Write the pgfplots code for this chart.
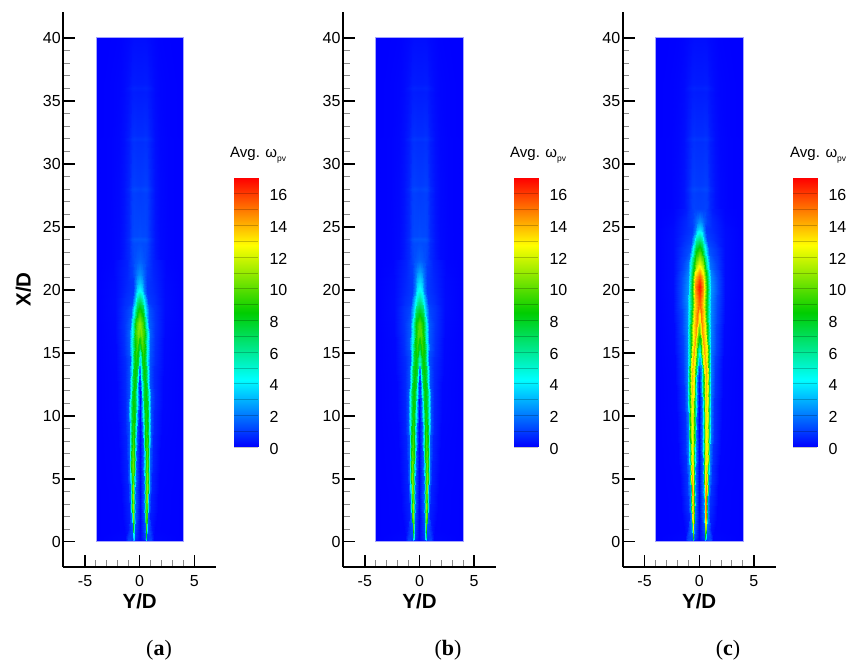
\documentclass[border=0pt]{standalone}
\usepackage{fontspec}
\setmainfont{Liberation Sans}
\newfontfamily\capfont{Liberation Serif}
\usepackage{pgfplots}
\usepackage{pgfplotstable}
\pgfplotsset{compat=1.18}
\pgfplotstableread[row sep=\\]{
Y X V\\
0 22.4 1.6\\.25 22.4 1.5\\.5 22.4 1.3\\.7 22.4 1.1\\1 22.4 .7\\1.4 22.4 .4\\1.9 22.4 .15\\2.6 22.4 .05\\3.2 22.4 .02\\4 22.4 0\\
0 23.7 1.3\\.25 23.7 1.25\\.5 23.7 1.25\\.7 23.7 1.15\\1 23.7 .7\\1.4 23.7 .36\\1.9 23.7 .15\\2.6 23.7 .05\\3.2 23.7 .02\\4 23.7 0\\
0 24 1.45\\.25 24 1.45\\.5 24 1.45\\.7 24 1.3\\1 24 .8\\1.4 24 .38\\1.9 24 .15\\2.6 24 .05\\3.2 24 .02\\4 24 0\\
0 24.3 1.25\\.25 24.3 1.2\\.5 24.3 1.2\\.7 24.3 1.1\\1 24.3 .68\\1.4 24.3 .35\\1.9 24.3 .14\\2.6 24.3 .05\\3.2 24.3 .02\\4 24.3 0\\
0 27.7 .98\\.25 27.7 1\\.5 27.7 1.05\\.7 27.7 1\\1 27.7 .62\\1.4 27.7 .3\\1.9 27.7 .13\\2.6 27.7 .04\\3.2 27.7 .02\\4 27.7 0\\
0 28 1.1\\.25 28 1.15\\.5 28 1.2\\.7 28 1.12\\1 28 .72\\1.4 28 .32\\1.9 28 .13\\2.6 28 .04\\3.2 28 .02\\4 28 0\\
0 28.3 .96\\.25 28.3 .98\\.5 28.3 1.03\\.7 28.3 .98\\1 28.3 .6\\1.4 28.3 .3\\1.9 28.3 .13\\2.6 28.3 .04\\3.2 28.3 .02\\4 28.3 0\\
0 31.7 .75\\.25 31.7 .75\\.5 31.7 .8\\.7 31.7 .75\\1 31.7 .48\\1.4 31.7 .24\\1.9 31.7 .1\\2.6 31.7 .04\\3.2 31.7 .02\\4 31.7 0\\
0 32 .87\\.25 32 .87\\.5 32 .92\\.7 32 .85\\1 32 .58\\1.4 32 .25\\1.9 32 .1\\2.6 32 .04\\3.2 32 .02\\4 32 0\\
0 32.3 .72\\.25 32.3 .72\\.5 32.3 .77\\.7 32.3 .72\\1 32.3 .46\\1.4 32.3 .23\\1.9 32.3 .1\\2.6 32.3 .03\\3.2 32.3 .01\\4 32.3 0\\
0 35.7 .45\\.25 35.7 .45\\.5 35.7 .47\\.7 35.7 .45\\1 35.7 .3\\1.4 35.7 .16\\1.9 35.7 .07\\2.6 35.7 .03\\3.2 35.7 .01\\4 35.7 0\\
0 36 .55\\.25 36 .55\\.5 36 .58\\.7 36 .54\\1 36 .38\\1.4 36 .16\\1.9 36 .07\\2.6 36 .03\\3.2 36 .01\\4 36 0\\
0 36.3 .43\\.25 36.3 .43\\.5 36.3 .45\\.7 36.3 .43\\1 36.3 .28\\1.4 36.3 .15\\1.9 36.3 .07\\2.6 36.3 .03\\3.2 36.3 .01\\4 36.3 0\\
0 40 .22\\.25 40 .22\\.5 40 .22\\.7 40 .2\\1 40 .14\\1.4 40 .08\\1.9 40 .03\\2.6 40 .01\\3.2 40 0\\4 40 0\\
}\tail
\pgfplotstableread[row sep=\\]{
Y X V\\
0 0 0\\.535 0 .7\\.56 0 2.25\\.58 0 4\\.6 0 4.5\\.62 0 4\\.64 0 2.25\\.665 0 .7\\1.05 0 1.3\\1.3 0 .1\\4 0 0\\
0 .4 0\\.509 .4 1.1\\.544 .4 3.75\\.572 .4 6.6\\.6 .4 7.5\\.628 .4 6.6\\.656 .4 3.75\\.691 .4 1.1\\1.08 .4 .9\\1.3 .4 .1\\4 .4 0\\
0 1 0\\.493 1 1.4\\.538 1 4.75\\.574 1 8.4\\.61 1 9.5\\.646 1 8.4\\.682 1 4.75\\.727 1 1.4\\1.1 1 .35\\1.4 1 .05\\4 1 0\\
0 2 0\\.461 2 1.65\\.526 2 5.5\\.578 2 9.7\\.63 2 11\\.682 2 9.7\\.734 2 5.5\\.799 2 1.65\\.95 2 .5\\1.6 2 .05\\4 2 0\\
0 2.7 0\\.438 2.7 1.7\\.516 2.7 5.55\\.578 2.7 9.8\\.64 2.7 11.1\\.702 2.7 9.8\\.764 2.7 5.55\\.842 2.7 1.7\\1 2.7 .52\\1.65 2.7 .05\\4 2.7 0\\
0 3.5 0\\.416 3.5 1.7\\.506 3.5 5.6\\.578 3.5 9.9\\.65 3.5 11.2\\.722 3.5 9.9\\.794 3.5 5.6\\.884 3.5 1.7\\1.05 3.5 .55\\1.7 3.5 .05\\4 3.5 0\\
0 4.2 0\\.395 4.2 1.65\\.495 4.2 5.5\\.575 4.2 9.7\\.655 4.2 11\\.735 4.2 9.7\\.815 4.2 5.5\\.915 4.2 1.65\\1.095 4.2 .55\\1.75 4.2 .05\\4 4.2 0\\
0 5 0\\.374 5 1.6\\.484 5 5.4\\.572 5 9.5\\.66 5 10.8\\.748 5 9.5\\.836 5 5.4\\.946 5 1.6\\1.14 5 .55\\1.8 5 .06\\4 5 0\\
0 6 0\\.343 6 1.55\\.463 6 5.2\\.559 6 9.15\\.655 6 10.4\\.751 6 9.15\\.847 6 5.2\\.967 6 1.55\\1.18 6 .55\\1.85 6 .06\\4 6 0\\
0 7 0\\.312 7 1.5\\.442 7 5\\.546 7 8.8\\.65 7 10\\.754 7 8.8\\.858 7 5\\.988 7 1.5\\1.22 7 .55\\1.9 7 .07\\4 7 0\\
0 8 0\\.265 8 1.45\\.407 8 4.8\\.521 8 8.45\\.635 8 9.6\\.749 8 8.45\\.863 8 4.8\\1.005 8 1.45\\1.26 8 .55\\1.95 8 .07\\4 8 0\\
0 9 0\\.217 9 1.4\\.372 9 4.6\\.496 9 8.1\\.62 9 9.2\\.744 9 8.1\\.868 9 4.6\\1.023 9 1.4\\1.3 9 .55\\2 9 .08\\4 9 0\\
0 10 0\\.16 10 1.35\\.327 10 4.5\\.461 10 7.9\\.595 10 8.95\\.729 10 7.9\\.863 10 4.5\\1.03 10 1.35\\1.33 10 .57\\2.05 10 .09\\4 10 0\\
0 11 0\\.102 11 1.3\\.282 11 4.35\\.426 11 7.7\\.57 11 8.7\\.714 11 7.7\\.858 11 4.35\\1.038 11 1.3\\1.36 11 .6\\2.1 11 .1\\4 11 0\\
0 11.8 .12\\.076 11.8 .95\\.243 11.8 4.3\\.389 11.8 7.65\\.535 11.8 8.65\\.681 11.8 7.65\\.827 11.8 4.3\\1.01 11.8 1.3\\1.355 11.8 .62\\2.1 11.8 .1\\4 11.8 0\\
0 12.5 .3\\.05 12.5 .6\\.204 12.5 4.3\\.352 12.5 7.6\\.5 12.5 8.6\\.648 12.5 7.6\\.796 12.5 4.3\\.981 12.5 1.3\\1.35 12.5 .65\\2.1 12.5 .1\\4 12.5 0\\
0 13 .55\\.05 13 1.1\\.157 13 4.3\\.311 13 7.6\\.465 13 8.6\\.619 13 7.6\\.773 13 4.3\\.965 13 1.3\\1.35 13 .65\\2.15 13 .1\\4 13 0\\
0 13.5 .9\\.05 13.5 1.6\\.11 13.5 4.3\\.27 13.5 7.6\\.43 13.5 8.6\\.59 13.5 7.6\\.75 13.5 4.3\\.95 13.5 1.3\\1.35 13.5 .65\\2.2 13.5 .1\\4 13.5 0\\
}\low
\pgfplotstableread[row sep=\\]{
Y X V\\
0 13.5 .9\\.05 13.5 1.6\\.11 13.5 4.3\\.27 13.5 7.6\\.43 13.5 8.6\\.59 13.5 7.6\\.75 13.5 4.3\\.95 13.5 1.3\\1.35 13.5 .65\\2.2 13.5 .1\\4 13.5 0\\
0 14.5 3.2\\.04 14.5 3.4\\.09 14.5 5\\.2 14.5 7.9\\.34 14.5 8.9\\.516 14.5 7.8\\.692 14.5 4.45\\.912 14.5 1.35\\1.376 14.5 .7\\2.2 14.5 .12\\4 14.5 0\\
0 15 4.9\\.035 15 5.1\\.08 15 6.25\\.175 15 8.35\\.295 15 9.25\\.493 15 8.1\\.691 15 4.6\\.938 15 1.4\\1.41 15 .72\\2.2 15 .12\\4 15 0\\
0 15.5 6.6\\.03 15.5 6.8\\.07 15.5 7.5\\.15 15.5 8.8\\.25 15.5 9.6\\.47 15.5 8.45\\.69 15.5 4.8\\.965 15.5 1.45\\1.44 15.5 .75\\2.2 15.5 .13\\4 15.5 0\\
0 16 8.2\\.025 16 8.3\\.06 16 8.75\\.12 16 9.55\\.195 16 10.05\\.429 16 8.8\\.663 16 5\\.955 16 1.5\\1.435 16 .78\\2.25 16 .13\\4 16 0\\
0 16.5 9.7\\.02 16.5 9.8\\.05 16.5 10\\.09 16.5 10.3\\.14 16.5 10.5\\.388 16.5 9.2\\.636 16.5 5.25\\.946 16.5 1.6\\1.43 16.5 .8\\2.3 16.5 .14\\4 16.5 0\\
0 17.3 10.7\\.01 17.3 10.7\\.02 17.3 10.75\\.035 17.3 10.8\\.05 17.3 10.8\\.31 17.3 9.5\\.57 17.3 5.4\\.895 17.3 1.6\\1.4 17.3 .85\\2.3 17.3 .15\\4 17.3 0\\
0 18.4 8.8\\.008 18.4 8.8\\.016 18.4 8.8\\.023 18.4 8.8\\.03 18.4 8.8\\.278 18.4 7.7\\.526 18.4 4.4\\.836 18.4 1.4\\1.4 18.4 .8\\2.3 18.4 .18\\4 18.4 0\\
0 19.2 6.6\\.008 19.2 6.6\\.016 19.2 6.6\\.023 19.2 6.6\\.03 19.2 6.6\\.25 19.2 5.8\\.47 19.2 3.3\\.745 19.2 1\\1.3 19.2 .75\\2.3 19.2 .18\\4 19.2 0\\
0 20 4.2\\.008 20 4.2\\.016 20 4.2\\.023 20 4.2\\.03 20 4.2\\.218 20 3.7\\.406 20 2.1\\.641 20 .9\\1.2 20 .7\\2.3 20 .16\\4 20 0\\
0 20.6 3.2\\.008 20.6 3.2\\.016 20.6 3.2\\.023 20.6 3.2\\.03 20.6 3.2\\.218 20.6 2.8\\.406 20.6 1.8\\.641 20.6 .9\\1.2 20.6 .65\\2.3 20.6 .15\\4 20.6 0\\
0 21.3 2.3\\.008 21.3 2.3\\.016 21.3 2.3\\.023 21.3 2.3\\.03 21.3 2.3\\.23 21.3 2.05\\.43 21.3 1.6\\.68 21.3 1\\1.2 21.3 .6\\2.4 21.3 .1\\4 21.3 0\\
0 22.4 1.6\\.008 22.4 1.6\\.016 22.4 1.6\\.023 22.4 1.6\\.03 22.4 1.6\\.25 22.4 1.5\\.5 22.4 1.3\\.8 22.4 .97\\1.2 22.4 .55\\2.4 22.4 .07\\4 22.4 0\\
}\upA
\pgfplotstableread[row sep=\\]{
Y X V\\
0 13.5 .9\\.05 13.5 1.6\\.11 13.5 4.3\\.27 13.5 7.6\\.43 13.5 8.6\\.59 13.5 7.6\\.75 13.5 4.3\\.95 13.5 1.3\\1.35 13.5 .65\\2.2 13.5 .1\\4 13.5 0\\
0 14.5 4\\.04 14.5 4.2\\.09 14.5 5.4\\.19 14.5 7.8\\.32 14.5 8.7\\.496 14.5 7.65\\.672 14.5 4.35\\.892 14.5 1.3\\1.36 14.5 .7\\2.2 14.5 .12\\4 14.5 0\\
0 15 5.5\\.035 15 5.7\\.08 15 6.6\\.165 15 8.25\\.265 15 9\\.463 15 7.9\\.661 15 4.5\\.908 15 1.35\\1.38 15 .72\\2.2 15 .12\\4 15 0\\
0 15.5 7\\.03 15.5 7.2\\.07 15.5 7.8\\.14 15.5 8.7\\.21 15.5 9.3\\.43 15.5 8.2\\.65 15.5 4.65\\.925 15.5 1.4\\1.4 15.5 .75\\2.2 15.5 .13\\4 15.5 0\\
0 16 8.2\\.025 16 8.35\\.055 16 8.7\\.105 16 9.25\\.155 16 9.6\\.389 16 8.45\\.623 16 4.8\\.915 16 1.45\\1.4 16 .78\\2.25 16 .13\\4 16 0\\
0 16.5 9.4\\.02 16.5 9.5\\.04 16.5 9.6\\.07 16.5 9.8\\.1 16.5 9.9\\.348 16.5 8.7\\.596 16.5 4.95\\.906 16.5 1.5\\1.4 16.5 .8\\2.3 16.5 .14\\4 16.5 0\\
0 17.3 9.7\\.01 17.3 9.7\\.02 17.3 9.75\\.035 17.3 9.8\\.05 17.3 9.8\\.31 17.3 8.6\\.57 17.3 4.9\\.895 17.3 1.5\\1.4 17.3 .85\\2.3 17.3 .15\\4 17.3 0\\
0 18.4 7.7\\.008 18.4 7.7\\.016 18.4 7.7\\.023 18.4 7.7\\.03 18.4 7.7\\.286 18.4 6.8\\.542 18.4 3.85\\.862 18.4 1.2\\1.4 18.4 .85\\2.3 18.4 .18\\4 18.4 0\\
0 19.2 5.9\\.008 19.2 5.9\\.016 19.2 5.9\\.023 19.2 5.9\\.03 19.2 5.9\\.262 19.2 5.2\\.494 19.2 2.95\\.784 19.2 1\\1.3 19.2 .75\\2.3 19.2 .18\\4 19.2 0\\
0 20 4.4\\.008 20 4.4\\.016 20 4.4\\.023 20 4.4\\.03 20 4.4\\.238 20 3.9\\.446 20 2.2\\.706 20 .95\\1.2 20 .7\\2.3 20 .16\\4 20 0\\
0 20.8 3.5\\.008 20.8 3.5\\.016 20.8 3.5\\.023 20.8 3.5\\.03 20.8 3.5\\.238 20.8 3.1\\.446 20.8 1.9\\.706 20.8 .95\\1.2 20.8 .65\\2.3 20.8 .15\\4 20.8 0\\
0 21.6 2.5\\.008 21.6 2.5\\.016 21.6 2.5\\.023 21.6 2.5\\.03 21.6 2.5\\.238 21.6 2.2\\.446 21.6 1.7\\.706 21.6 1\\1.2 21.6 .6\\2.4 21.6 .1\\4 21.6 0\\
0 22.4 1.6\\.008 22.4 1.6\\.016 22.4 1.6\\.023 22.4 1.6\\.03 22.4 1.6\\.25 22.4 1.5\\.5 22.4 1.3\\.8 22.4 .97\\1.2 22.4 .55\\2.4 22.4 .07\\4 22.4 0\\
}\upB
\pgfplotstableread[row sep=\\]{
Y X V\\
0 0 0\\.535 0 .75\\.56 0 2.5\\.58 0 4.4\\.6 0 5\\.62 0 4.4\\.64 0 2.5\\.665 0 .75\\1.05 0 1.3\\1.3 0 .1\\4 0 0\\
0 .4 0\\.509 .4 1.35\\.544 .4 4.5\\.572 .4 7.9\\.6 .4 9\\.628 .4 7.9\\.656 .4 4.5\\.691 .4 1.35\\1.08 .4 .9\\1.3 .4 .1\\4 .4 0\\
0 1 0\\.493 1 1.85\\.538 1 6.15\\.574 1 10.8\\.61 1 12.3\\.646 1 10.8\\.682 1 6.15\\.727 1 1.85\\1.1 1 .35\\1.4 1 .05\\4 1 0\\
0 2 0\\.451 2 2.25\\.516 2 7.5\\.568 2 13.2\\.62 2 15\\.672 2 13.2\\.724 2 7.5\\.789 2 2.25\\.95 2 .6\\1.6 2 .05\\4 2 0\\
0 2.6 0\\.436 2.6 2.3\\.509 2.6 7.6\\.567 2.6 13.4\\.625 2.6 15.3\\.683 2.6 13.4\\.741 2.6 7.6\\.813 2.6 2.3\\.985 2.6 .7\\1.65 2.6 .05\\4 2.6 0\\
0 3.2 0\\.422 3.2 2.3\\.502 3.2 7.75\\.566 3.2 13.6\\.63 3.2 15.5\\.694 3.2 13.6\\.758 3.2 7.75\\.838 3.2 2.3\\1.02 3.2 .8\\1.7 3.2 .05\\4 3.2 0\\
0 4.1 0\\.393 4.1 2.2\\.488 4.1 7.45\\.564 4.1 13.1\\.64 4.1 14.9\\.716 4.1 13.1\\.792 4.1 7.45\\.887 4.1 2.2\\1.08 4.1 .8\\1.75 4.1 .05\\4 4.1 0\\
0 5 0\\.364 5 2.15\\.474 5 7.15\\.562 5 12.6\\.65 5 14.3\\.738 5 12.6\\.826 5 7.15\\.936 5 2.15\\1.14 5 .8\\1.8 5 .06\\4 5 0\\
0 5.75 0\\.343 5.75 2.05\\.463 5.75 6.9\\.559 5.75 12.15\\.655 5.75 13.8\\.751 5.75 12.15\\.847 5.75 6.9\\.967 5.75 2.05\\1.19 5.75 .78\\1.85 5.75 .06\\4 5.75 0\\
0 6.5 0\\.322 6.5 2\\.452 6.5 6.65\\.556 6.5 11.7\\.66 6.5 13.3\\.764 6.5 11.7\\.868 6.5 6.65\\.998 6.5 2\\1.24 6.5 .75\\1.9 6.5 .07\\4 6.5 0\\
0 7.4 0\\.296 7.4 2\\.436 7.4 6.55\\.548 7.4 11.55\\.66 7.4 13.15\\.772 7.4 11.55\\.884 7.4 6.55\\1.024 7.4 2\\1.275 7.4 .75\\1.95 7.4 .07\\4 7.4 0\\
0 8.3 0\\.27 8.3 1.95\\.42 8.3 6.5\\.54 8.3 11.4\\.66 8.3 13\\.78 8.3 11.4\\.9 8.3 6.5\\1.05 8.3 1.95\\1.31 8.3 .75\\2 8.3 .08\\4 8.3 0\\
0 9.6 0\\.25 9.6 2\\.408 9.6 6.6\\.534 9.6 11.65\\.66 9.6 13.25\\.786 9.6 11.65\\.912 9.6 6.6\\1.07 9.6 2\\1.34 9.6 .78\\2.05 9.6 .09\\4 9.6 0\\
0 11 0\\.231 11 2\\.396 11 6.75\\.528 11 11.9\\.66 11 13.5\\.792 11 11.9\\.924 11 6.75\\1.089 11 2\\1.376 11 .8\\2.1 11 .1\\4 11 0\\
0 12 .1\\.195 12 2.05\\.37 12 6.9\\.51 12 12.1\\.65 12 13.75\\.79 12 12.1\\.93 12 6.9\\1.105 12 2.05\\1.41 12 .82\\2.15 12 .1\\4 12 0\\
0 13 .3\\.159 13 2.1\\.344 13 7\\.492 13 12.3\\.64 13 14\\.788 13 12.3\\.936 13 7\\1.121 13 2.1\\1.444 13 .85\\2.2 13 .1\\4 13 0\\
0 13.6 .8\\.126 13.6 2.1\\.316 13.6 7\\.468 13.6 12.3\\.62 13.6 14\\.772 13.6 12.3\\.924 13.6 7\\1.114 13.6 2.1\\1.456 13.6 .9\\2.2 13.6 .11\\4 13.6 0\\
0 14.4 2.5\\.05 14.4 2.7\\.214 14.4 7\\.382 14.4 12.3\\.55 14.4 14\\.718 14.4 12.3\\.886 14.4 7\\1.096 14.4 2.1\\1.47 14.4 1\\2.2 14.4 .12\\4 14.4 0\\
0 15.2 5\\.04 15.2 5.2\\.17 15.2 7.5\\.3 15.2 11.5\\.47 15.2 14.2\\.67 15.2 12.5\\.87 15.2 7.1\\1.12 15.2 2.1\\1.5 15.2 1.05\\2.3 15.2 .13\\4 15.2 0\\
0 16 7.8\\.04 16 8\\.13 16 9.3\\.25 16 12\\.38 16 14.3\\.604 16 12.6\\.828 16 7.15\\1.108 16 2.15\\1.5 16 1.1\\2.3 16 .14\\4 16 0\\
0 16.8 9.8\\.03 16.8 10\\.1 16.8 11\\.2 16.8 13\\.3 16.8 14.5\\.552 16.8 12.8\\.804 16.8 7.25\\1.119 16.8 2.2\\1.55 16.8 1.1\\2.3 16.8 .15\\4 16.8 0\\
0 17.9 12.5\\.02 17.9 12.7\\.06 17.9 13\\.12 17.9 14.2\\.18 17.9 15\\.46 17.9 13.2\\.74 17.9 7.5\\1.09 17.9 2.25\\1.6 17.9 1.1\\2.4 17.9 .16\\4 17.9 0\\
0 19 14.8\\.01 19 14.9\\.02 19 15\\.04 19 15.3\\.06 19 15.5\\.372 19 13.6\\.684 19 7.75\\1.074 19 2.3\\1.65 19 1.2\\2.4 19 .18\\4 19 0\\
0 20.2 16.6\\.008 20.2 16.6\\.016 20.2 16.6\\.023 20.2 16.6\\.03 20.2 16.6\\.35 20.2 14.6\\.67 20.2 8.3\\1.07 20.2 2.5\\1.7 20.2 1.2\\2.4 20.2 .2\\4 20.2 0\\
0 21 15.4\\.008 21 15.4\\.016 21 15.4\\.023 21 15.4\\.03 21 15.4\\.35 21 13.6\\.67 21 7.7\\1.07 21 2.3\\1.7 21 1.15\\2.4 21 .2\\4 21 0\\
0 22.1 12\\.008 22.1 12\\.016 22.1 12\\.023 22.1 12\\.03 22.1 12\\.33 22.1 10.6\\.63 22.1 6\\1.005 22.1 1.8\\1.6 22.1 1\\2.4 22.1 .2\\4 22.1 0\\
0 23.2 9\\.008 23.2 9\\.016 23.2 9\\.023 23.2 9\\.03 23.2 9\\.29 23.2 7.9\\.55 23.2 4.5\\.875 23.2 1.35\\1.5 23.2 .9\\2.4 23.2 .2\\4 23.2 0\\
0 24 6.2\\.008 24 6.2\\.016 24 6.2\\.023 24 6.2\\.03 24 6.2\\.25 24 5.5\\.47 24 3.1\\.745 24 1.1\\1.3 24 .8\\2.4 24 .2\\4 24 0\\
0 24.8 3.6\\.008 24.8 3.6\\.016 24.8 3.6\\.023 24.8 3.6\\.03 24.8 3.6\\.22 24.8 3.2\\.41 24.8 1.9\\.65 24.8 .95\\1.2 24.8 .7\\2.4 24.8 .18\\4 24.8 0\\
0 25.5 2.3\\.008 25.5 2.3\\.016 25.5 2.3\\.023 25.5 2.3\\.03 25.5 2.3\\.23 25.5 2\\.43 25.5 1.55\\.68 25.5 1.05\\1.2 25.5 .65\\2.4 25.5 .12\\4 25.5 0\\
0 26.4 1.1\\.008 26.4 1.1\\.016 26.4 1.1\\.023 26.4 1.1\\.03 26.4 1.1\\.25 26.4 1.1\\.5 26.4 1.12\\.8 26.4 .85\\1.2 26.4 .45\\2.4 26.4 .07\\4 26.4 0\\
}\fullC
\pgfplotsset{
  tec/.style={colormap={tec}{rgb255=(0,0,255) rgb255=(0,255,255) rgb255=(0,205,0) rgb255=(255,255,0) rgb255=(255,0,0)},point meta min=0,point meta max=17},
  panel/.style={scale only axis,width=153pt,height=555pt,tec,
    xmin=-7,xmax=7,ymin=-2,ymax=42.05,
    axis lines=left,axis line style={-,line width=1.6pt},
    tick align=inside,major tick length=12pt,minor tick length=6.5pt,
    xtick={-5,0,5},xticklabels={-5,0,5},ytick={0,5,...,40},minor x tick num=4,minor y tick num=4,
    every major tick/.style={black,line width=1.4pt},
    every minor tick/.style={black!45,line width=1pt},
    tick label style={font=\fontsize{16}{18}\selectfont},
    /pgf/number format/assume math mode=true,
    xticklabel style={yshift=-5pt},yticklabel style={xshift=1pt},
    xlabel={\fontsize{20.5}{22}\selectfont\bfseries Y/D},
    xlabel style={yshift=0pt},
  },
  cbar/.style={scale only axis,width=24pt,height=269pt,tec,
    xmin=0,xmax=1,ymin=0,ymax=17,axis on top,
    hide x axis,axis y line=right,y axis line style={draw=none},
    ytick={0,2,...,16},minor ytick={1,3,...,15},major tick length=0pt,minor tick length=0pt,
    ymajorgrids,yminorgrids,
    major grid style={black,opacity=.22,line width=.7pt},minor grid style={black,opacity=.22,line width=.7pt},
    tick label style={font=\fontsize{16}{18}\selectfont},
    /pgf/number format/assume math mode=true,
    yticklabel style={xshift=8pt,yshift=-1.5pt},
  },
  fld/.style={surf,shader=interp,point meta=explicit},
}
\newcommand\field[2]{%
  \addplot[fld,mesh/cols=#2] table[x=Y,y=X,meta=V]{#1};
  \addplot[fld,mesh/cols=#2] table[x expr=-\thisrow{Y},y=X,meta=V]{#1};
}
\newcommand\edge{\addplot[draw={rgb,255:red,165;green,165;blue,255},line width=.8pt] coordinates {(-4,0)(4,0)(4,40)(-4,40)(-4,0)};}
\newcommand\bardata{\addplot[surf,shader=interp,mesh/cols=2,point meta=y] coordinates {(0,0)(1,0)(0,17)(1,17)};}
\newcommand\avg[1]{\node[anchor=base west,inner sep=0pt] at (#1,506.3pt) {\fontsize{15}{18}\selectfont Avg. ω\raisebox{-3.5pt}{\fontsize{8.5}{10}\selectfont pv}};}
\begin{document}
\begin{tikzpicture}[x=1pt,y=1pt]
\path[use as bounding box] (0,0) rectangle (847,664);
\begin{axis}[panel,at={(63.2pt,97pt)},anchor=south west,
  ylabel={\fontsize{20.5}{22}\selectfont\bfseries X/D},ylabel style={yshift=5pt}]
\field{\tail}{10}\field{\low}{11}\field{\upA}{11}\edge
\end{axis}
\begin{axis}[panel,at={(343pt,97pt)},anchor=south west]
\field{\tail}{10}\field{\low}{11}\field{\upB}{11}\edge
\end{axis}
\begin{axis}[panel,at={(622.7pt,97pt)},anchor=south west]
\field{\tail}{10}\field{\fullC}{11}\edge
\end{axis}
\begin{axis}[cbar,at={(234pt,217pt)},anchor=south west]\bardata\end{axis}
\begin{axis}[cbar,at={(514pt,217pt)},anchor=south west]\bardata\end{axis}
\begin{axis}[cbar,at={(793pt,217pt)},anchor=south west]\bardata\end{axis}
\avg{230pt}\avg{510pt}\avg{790pt}
\node[font=\capfont\fontsize{22}{24}\selectfont] at (159pt,14pt) {(\textbf{a})};
\node[font=\capfont\fontsize{22}{24}\selectfont] at (448pt,14pt) {(\textbf{b})};
\node[font=\capfont\fontsize{22}{24}\selectfont] at (728pt,14pt) {(\textbf{c})};
\end{tikzpicture}
\end{document}
